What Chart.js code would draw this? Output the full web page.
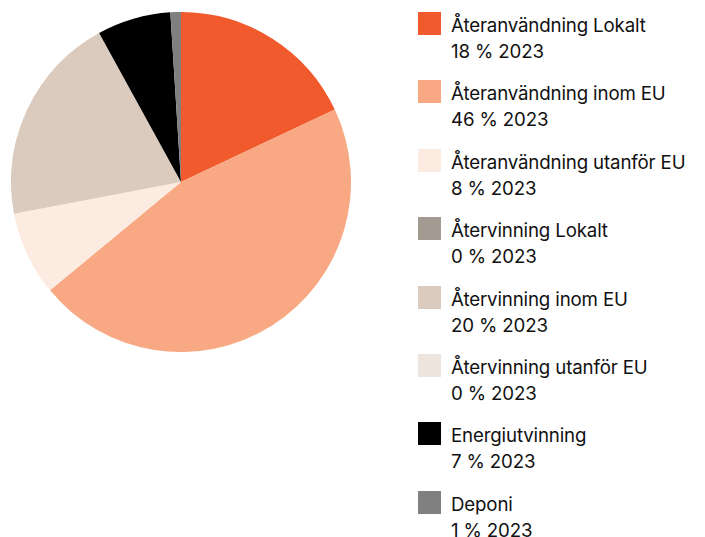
<!DOCTYPE html>
<html>
<head>
<meta charset="utf-8">
<script src="https://cdn.jsdelivr.net/npm/chart.js@4/dist/chart.umd.min.js"></script>
<style>
  html, body { margin: 0; padding: 0; background: #fff; width: 705px; height: 537px; overflow: hidden; }
  #wrap { position: absolute; left: 11px; top: 12px; width: 340px; height: 340px; }
  #legend { position: absolute; left: 0; top: 0; }
  .item { position: absolute; left: 418px; }
  .box { position: absolute; left: 0; top: 0; width: 23px; height: 23px; }
  .txt { position: absolute; left: 33px; top: 1px; font-family: Inter, "Noto Sans", sans-serif; font-size: 18.7px; font-weight: 400; line-height: 26px; color: #111; white-space: nowrap; letter-spacing: -0.15px; }
</style>
</head>
<body>
<div id="wrap"><canvas id="c"></canvas></div>
<div id="legend"></div>
<script>
const categories = [
  "Återanvändning Lokalt",
  "Återanvändning inom EU",
  "Återanvändning utanför EU",
  "Återvinning Lokalt",
  "Återvinning inom EU",
  "Återvinning utanför EU",
  "Energiutvinning",
  "Deponi"
];
const values2023 = [18, 46, 8, 0, 20, 0, 7, 1];
const colors = ["#F15A2D", "#F8A984", "#FCEBE0", "#A39A91", "#DBCBBE", "#EDE4DE", "#000000", "#808080"];
const yearLabel = "2023";

new Chart(document.getElementById('c'), {
  type: 'pie',
  data: {
    labels: categories,
    datasets: [{ data: values2023, backgroundColor: colors, borderWidth: 0, hoverOffset: 0 }]
  },
  options: {
    responsive: true,
    maintainAspectRatio: false,
    animation: false,
    layout: { padding: 0 },
    plugins: { legend: { display: false }, tooltip: { enabled: false } }
  }
});

const legend = document.getElementById('legend');
categories.forEach((name, i) => {
  const item = document.createElement('div');
  item.className = 'item';
  item.style.top = (12 + i * 68.4) + 'px';
  const box = document.createElement('div');
  box.className = 'box';
  box.style.background = colors[i];
  const txt = document.createElement('div');
  txt.className = 'txt';
  txt.innerHTML = name + '<br>' + values2023[i] + ' % ' + yearLabel;
  item.appendChild(box);
  item.appendChild(txt);
  legend.appendChild(item);
});
</script>
</body>
</html>
